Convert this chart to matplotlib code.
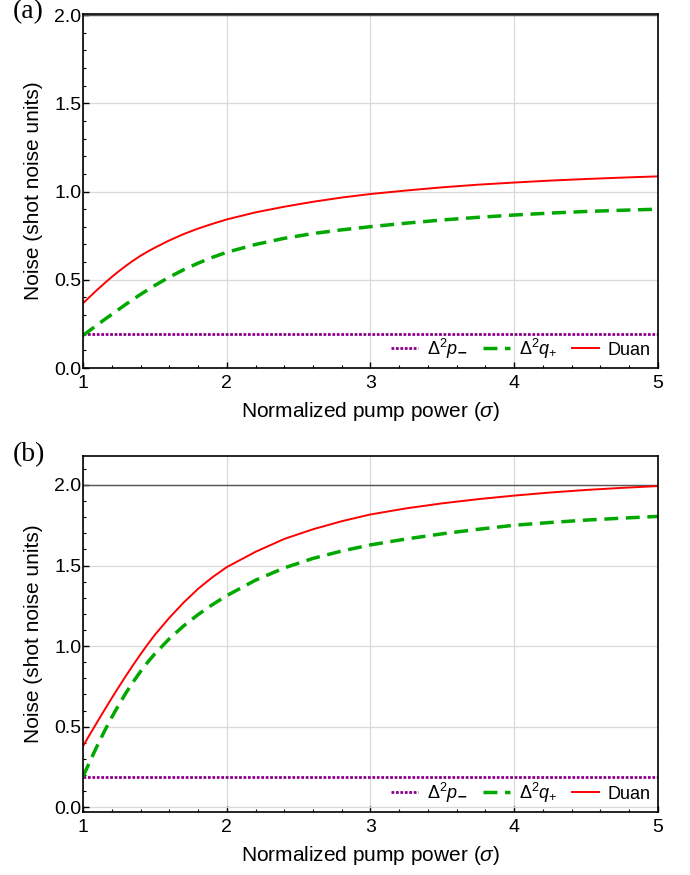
import numpy as np
import matplotlib
matplotlib.use("Agg")
from matplotlib import pyplot as plt
from matplotlib.ticker import MultipleLocator

plt.rcParams['font.family'] = ['Liberation Sans', 'DejaVu Sans']
plt.rcParams['mathtext.fontset'] = 'custom'
plt.rcParams['mathtext.rm'] = 'Liberation Sans'
plt.rcParams['mathtext.it'] = 'Liberation Sans:italic'

"""
    Data: normalized pump power and noise variances
"""
sigma = [1.0, 1.05, 1.1, 1.15, 1.2, 1.25, 1.3, 1.35, 1.4, 1.45, 1.5, 1.6, 1.7,
         1.8, 1.9, 2.0, 2.2, 2.4, 2.6, 2.8, 3.0, 3.25, 3.5, 3.75, 4.0, 4.25,
         4.5, 4.75, 5.0]

p_minus = 0.19

duan_a = [0.367, 0.406, 0.444, 0.481, 0.516, 0.549, 0.58, 0.609, 0.636, 0.66,
          0.682, 0.723, 0.759, 0.79, 0.817, 0.842, 0.882, 0.914, 0.942, 0.966,
          0.986, 1.006, 1.024, 1.039, 1.051, 1.062, 1.071, 1.079, 1.086]
q_plus_a = [0.185, 0.215, 0.245, 0.275, 0.304, 0.333, 0.362, 0.39, 0.417, 0.443,
            0.468, 0.515, 0.557, 0.594, 0.627, 0.656, 0.70, 0.735, 0.762, 0.783,
            0.801, 0.821, 0.839, 0.854, 0.867, 0.878, 0.887, 0.894, 0.90]

duan_b = [0.379, 0.455, 0.53, 0.604, 0.677, 0.748, 0.817, 0.884, 0.949, 1.011,
          1.07, 1.175, 1.27, 1.355, 1.427, 1.49, 1.585, 1.665, 1.725, 1.775,
          1.817, 1.855, 1.886, 1.912, 1.934, 1.953, 1.969, 1.982, 1.993]
q_plus_b = [0.19, 0.288, 0.383, 0.473, 0.558, 0.637, 0.711, 0.779, 0.842, 0.90,
            0.952, 1.045, 1.125, 1.195, 1.257, 1.313, 1.409, 1.485, 1.544, 1.59,
            1.628, 1.665, 1.697, 1.725, 1.75, 1.767, 1.782, 1.794, 1.805]

panels = [
    ('(a)', duan_a, q_plus_a, (0.0, 2.008), [0.1203, 0.5794, 0.8333, 0.4050]),
    ('(b)', duan_b, q_plus_b, (-0.03, 2.18), [0.1203, 0.0720, 0.8333, 0.4069]),
]

fig = plt.figure(figsize=(6.9, 8.75), dpi=100)

for tag, duan, q_plus, ylim, rect in panels:
    ax = fig.add_axes(rect)
    ax.axhline(2.0, color='#555555', linewidth=1.0, zorder=2)
    ax.plot([sigma[0], sigma[-1]], [p_minus, p_minus], color='#8b008b',
            linestyle=(0, (1, 0.6)), linewidth=2.0, label=r'$\Delta^2p_{\mathbf{-}}$')
    ax.plot(sigma, q_plus, color='#00a800', linestyle=(0, (4, 2.2)),
            linewidth=2.5, label=r'$\Delta^2q_{+}$')
    ax.plot(sigma, duan, color='#ff0000', linewidth=1.4, label='Duan')

    ax.set_xlim(1, 5)
    ax.set_ylim(*ylim)
    ax.xaxis.set_major_locator(MultipleLocator(1))
    ax.xaxis.set_minor_locator(MultipleLocator(0.2))
    ax.yaxis.set_major_locator(MultipleLocator(0.5))
    ax.yaxis.set_minor_locator(MultipleLocator(0.1))
    ax.yaxis.set_major_formatter(plt.FormatStrFormatter('%.1f'))
    ax.tick_params(which='both', direction='in', top=False, right=False,
                   labelsize=14)
    ax.tick_params(axis='y', pad=1)
    ax.tick_params(axis='x', pad=5)
    ax.tick_params(which='major', length=4, width=1)
    ax.tick_params(which='minor', length=2.5, width=0.8)
    ax.grid(True, which='major', color='#d9d9d9', linewidth=0.9)
    for s in ax.spines.values():
        s.set_linewidth(1.2)

    ax.set_xlabel(r'Normalized pump power ($\sigma$)', fontsize=15, labelpad=6)
    ax.set_ylabel('Noise (shot noise units)', fontsize=15, labelpad=8)
    ax.legend(loc='lower right', ncol=3, frameon=False, fontsize=13,
              handlelength=1.5, columnspacing=0.8, handletextpad=0.5,
              borderaxespad=0.0)
    ax.text(-0.122, 1.005, tag, transform=ax.transAxes, fontsize=20,
            family='Liberation Serif', ha='left', va='center')

fig.savefig('out.png', dpi=100)
